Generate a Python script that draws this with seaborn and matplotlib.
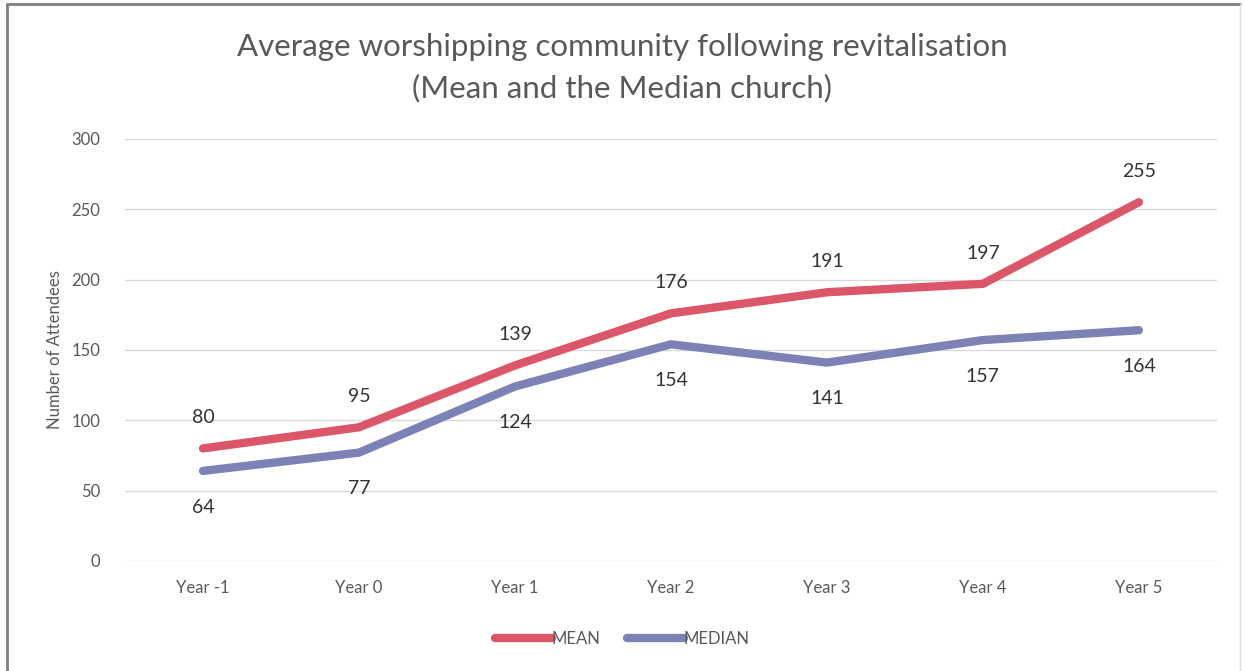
import matplotlib
matplotlib.use("Agg")
import matplotlib.pyplot as plt
from matplotlib.lines import Line2D
import seaborn as sns
import pandas as pd

years = ["Year -1", "Year 0", "Year 1", "Year 2", "Year 3", "Year 4", "Year 5"]
mean_values = [80, 95, 139, 176, 191, 197, 255]
median_values = [64, 77, 124, 154, 141, 157, 164]
series_names = ["MEAN", "MEDIAN"]
y_ticks = [0, 50, 100, 150, 200, 250, 300]

MEAN_COLOR = "#DC566A"
MEDIAN_COLOR = "#7C82B6"
TEXT_GRAY = "#595959"
LABEL_DARK = "#333333"

sns.set_theme(style="white")
plt.rcParams["font.family"] = ["Lato", "DejaVu Sans"]

df = pd.DataFrame({
    "year": years * 2,
    "pos": list(range(len(years))) * 2,
    "value": mean_values + median_values,
    "series": [series_names[0]] * len(years) + [series_names[1]] * len(years),
})

fig = plt.figure(figsize=(12.45, 6.71), dpi=100)
ax = fig.add_axes([0.1004, 0.164, 0.877, 0.629])

sns.lineplot(
    data=df, x="pos", y="value", hue="series",
    palette={series_names[0]: MEAN_COLOR, series_names[1]: MEDIAN_COLOR},
    linewidth=6, ax=ax, legend=False, sort=False,
    solid_capstyle="round", solid_joinstyle="round",
)

ax.set_xlim(-0.5, len(years) - 0.5)
ax.set_ylim(0, 300)
ax.set_yticks(y_ticks)
ax.set_xticks(range(len(years)))
ax.set_xticklabels(years)
ax.tick_params(axis="both", length=0, labelsize=12, labelcolor=TEXT_GRAY)
ax.tick_params(axis="y", pad=18)
ax.tick_params(axis="x", pad=14)
ax.yaxis.grid(True, color="#D9D9D9", linewidth=1)
ax.set_axisbelow(True)
for s in ax.spines.values():
    s.set_visible(False)

ax.set_xlabel("")
ax.set_ylabel("Number of Attendees", fontsize=12, color=TEXT_GRAY, labelpad=6)

# value labels: mean above, median below
for i, v in enumerate(mean_values):
    ax.annotate(str(v), (i, v), xytext=(0, 22), textcoords="offset points",
                ha="center", va="center", fontsize=14, color=LABEL_DARK)
for i, v in enumerate(median_values):
    ax.annotate(str(v), (i, v), xytext=(0, -26), textcoords="offset points",
                ha="center", va="center", fontsize=14, color=LABEL_DARK)

fig.text(0.5, 0.930, "Average worshipping community following revitalisation",
         ha="center", va="center", fontsize=22.5, color=TEXT_GRAY)
fig.text(0.5, 0.868, "(Mean and the Median church)",
         ha="center", va="center", fontsize=22.5, color=TEXT_GRAY)

handles = [
    Line2D([], [], color=MEAN_COLOR, linewidth=6, solid_capstyle="round"),
    Line2D([], [], color=MEDIAN_COLOR, linewidth=6, solid_capstyle="round"),
]
fig.legend(handles, series_names, loc="center", bbox_to_anchor=(0.5, 0.048),
           ncol=2, frameon=False, fontsize=12, labelcolor=TEXT_GRAY,
           handlelength=3.4, handletextpad=0.0, columnspacing=1.6)

# outer frame of the chart
fig.add_artist(Line2D([0.0056, 0.0056], [0.0, 0.994], transform=fig.transFigure,
                      color="#808080", linewidth=2))
fig.add_artist(Line2D([0.0056, 0.996], [0.994, 0.994], transform=fig.transFigure,
                      color="#808080", linewidth=2))
fig.add_artist(Line2D([0.996, 0.996], [0.0, 0.994], transform=fig.transFigure,
                      color="#E0E0E0", linewidth=1))

fig.savefig("out.png", dpi=100, facecolor="white")
